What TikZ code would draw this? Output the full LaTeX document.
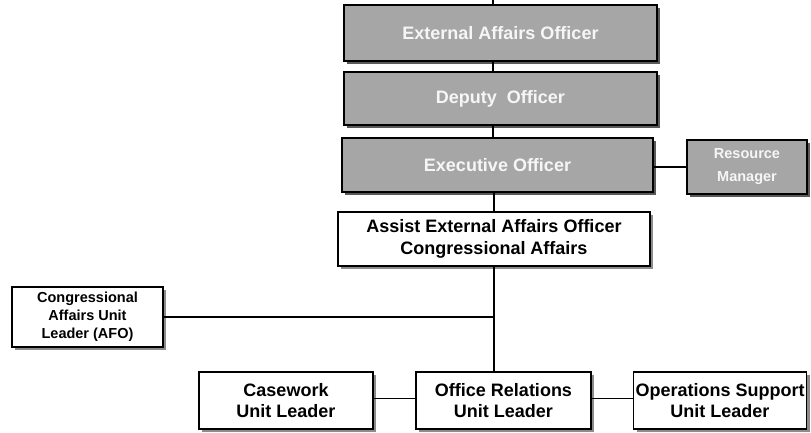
\documentclass[tikz,border=0pt]{standalone}
\usepackage{fontspec}
\setmainfont{Liberation Sans}
\usetikzlibrary{shadows,calc}
\definecolor{boxgrey}{RGB}{166,166,166}
\definecolor{textwhite}{RGB}{246,246,246}
\tikzset{
  unit/.style={draw=black, line width=1.3pt, inner sep=2pt, align=center,
    font=\bfseries\fontsize{18}{21.5}\selectfont},
  greybox/.style={unit, fill=boxgrey, text=textwhite,
    general shadow={fill=black!65, shadow xshift=3pt, shadow yshift=-3pt}},
  whitebox/.style={unit, fill=white, text=black,
    general shadow={fill=black!45, shadow xshift=3pt, shadow yshift=-3pt}},
  smalltext/.style={font=\bfseries\fontsize{14.5}{18}\selectfont},
  link/.style={draw=black, line width=1.2pt},
}
\begin{document}
\begin{tikzpicture}[x=1pt, y=-1pt]
  \useasboundingbox (0,0) rectangle (811,432);

  % command chain
  \node[greybox, minimum width=313pt, minimum height=56pt] (ext) at (500.5,33) {External Affairs Officer};
  \node[greybox, minimum width=313pt, minimum height=53pt] (dep) at (500.5,98.5) {Deputy~~Officer};
  \node[greybox, minimum width=311pt, minimum height=54pt] (exec) at (497.5,165) {Executive Officer};
  \node[greybox, smalltext, minimum width=120pt, minimum height=54pt] (res) at (747,167) {Resource\\[5pt]Manager};
  \node[whitebox, minimum width=312pt, minimum height=54pt] (assist) at (494,239)
    {Assist External Affairs Officer\\Congressional Affairs};

  % units
  \node[whitebox, smalltext, minimum width=151pt, minimum height=60pt] (cong) at (87.5,317)
    {Congressional\\Affairs Unit\\Leader (AFO)};
  \node[whitebox, minimum width=174pt, minimum height=57pt] (case) at (286,400.5) {Casework\\Unit Leader};
  \node[whitebox, minimum width=175pt, minimum height=57pt] (office) at (503.5,400.5) {Office Relations\\Unit Leader};
  \node[whitebox, minimum width=172pt, minimum height=57pt] (ops) at (720,400.5) {Operations Support\\Unit Leader};

  % connectors
  \coordinate (top) at (493,0);
  \coordinate (junction) at (assist.south |- cong.east);
  \path[link] (top) -- (top |- ext.north);
  \path[link] (ext.south -| top) -- (dep.north -| top);
  \path[link] (dep.south -| top) -- (exec.north -| top);
  \path[link] (exec.south -| assist.south) -- (assist.north);
  \path[link] (exec.east |- res.west) -- (res.west);
  \path[link] (assist.south) -- (assist.south |- office.north);
  \path[link] (cong.east) -- (junction);
  \path[link] ([yshift=2pt]case.east) -- ([yshift=2pt]office.west);
  \path[link] ([yshift=2pt]office.east) -- ([yshift=2pt]ops.west);
\end{tikzpicture}
\end{document}
